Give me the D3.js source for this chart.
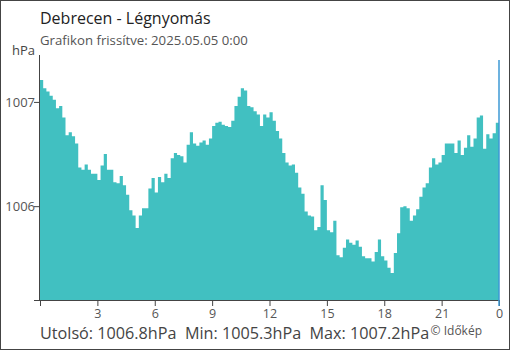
<!DOCTYPE html>
<html lang="hu">
<head>
<meta charset="UTF-8">
<title>Debrecen - Légnyomás</title>
<script src="https://cdn.jsdelivr.net/npm/d3@7"></script>
<style>
  body { margin: 0; background: #fff; }
  svg { display: block; font-family: "Open Sans", sans-serif; }
  .axis path, .axis line { stroke: #444; }
  .axis text { fill: #555; font-size: 12.5px; font-family: "Open Sans", sans-serif; }
</style>
</head>
<body>
<svg id="chart" width="510" height="350"></svg>

<script>
// 10 perces mérések 2025.05.04 0:00-tól, az utolsó pont 2025.05.05 0:00
var pressure = [
  1007.21, 1007.13, 1007.10, 1007.06, 1007.02, 1006.94, 1006.96, 1006.85, 1006.68, 1006.71,
  1006.67, 1006.60, 1006.37, 1006.35, 1006.40, 1006.35, 1006.31, 1006.31, 1006.25, 1006.39,
  1006.50, 1006.35, 1006.35, 1006.23, 1006.22, 1006.29, 1006.20, 1006.11, 1005.96, 1005.91,
  1005.79, 1005.91, 1005.98, 1005.98, 1006.17, 1006.27, 1006.13, 1006.28, 1006.23, 1006.31,
  1006.27, 1006.46, 1006.51, 1006.49, 1006.48, 1006.42, 1006.59, 1006.71, 1006.60, 1006.58,
  1006.61, 1006.63, 1006.59, 1006.65, 1006.77, 1006.80, 1006.81, 1006.78, 1006.77, 1006.76,
  1006.82, 1006.96, 1007.05, 1007.13, 1007.11, 1006.96, 1006.95, 1006.91, 1006.88, 1006.77,
  1006.88, 1006.85, 1006.90, 1006.82, 1006.72, 1006.65, 1006.51, 1006.42, 1006.39, 1006.40,
  1006.32, 1006.18, 1006.12, 1005.95, 1005.91, 1005.90, 1005.77, 1005.80, 1006.20, 1006.06,
  1005.77, 1005.75, 1005.86, 1005.53, 1005.51, 1005.60, 1005.68, 1005.65, 1005.63, 1005.67,
  1005.61, 1005.52, 1005.50, 1005.50, 1005.47, 1005.56, 1005.68, 1005.52, 1005.48, 1005.41,
  1005.36, 1005.55, 1005.74, 1005.99, 1006.00, 1005.98, 1005.86, 1005.91, 1005.97, 1006.09,
  1006.18, 1006.22, 1006.37, 1006.46, 1006.40, 1006.42, 1006.49, 1006.60, 1006.60, 1006.60,
  1006.51, 1006.63, 1006.49, 1006.56, 1006.68, 1006.57, 1006.65, 1006.85, 1006.87, 1006.55,
  1006.69, 1006.65, 1006.70, 1006.80, 1006.80
];
var stepMinutes = 10;
var hourTicks = [0, 3, 6, 9, 12, 15, 18, 21, 24];
var hourLabels = ["", "3", "6", "9", "12", "15", "18", "21", "0"];
var pressureTicks = [1006, 1007];

var title = "Debrecen - Légnyomás";
var subtitle = "Grafikon frissítve: 2025.05.05 0:00";
var unit = "hPa";
var statsText = ["Utolsó: 1006.8hPa", "Min: 1005.3hPa", "Max: 1007.2hPa"];
var credit = "© Időkép";

var svg = d3.select("#chart"),
    width = +svg.attr("width"),
    height = +svg.attr("height"),
    plotLeft = 40, plotRight = 499, plotTop = 55, plotBottom = 300;

var points = pressure.map(function(v, i) { return { h: i * stepMinutes / 60, v: v }; });

var x = d3.scaleLinear().domain([0, 24]).range([plotLeft, plotRight]);
var y = d3.scaleLinear().domain([1005.1, 1007.45]).range([plotBottom, plotTop]);

// keret
svg.append("rect")
    .attr("x", 0.5).attr("y", 0.5)
    .attr("width", width - 1).attr("height", height - 1)
    .attr("fill", "none").attr("stroke", "#444");

var area = d3.area()
    .curve(d3.curveStepAfter)
    .x(function(d) { return x(d.h); })
    .y0(plotBottom)
    .y1(function(d) { return y(d.v); });

svg.append("path")
    .datum(points)
    .attr("fill", "#41c0c1")
    .attr("d", area);

// x tengely
var xAxis = svg.append("g")
    .attr("class", "axis")
    .attr("transform", "translate(0," + plotBottom + ")")
    .call(d3.axisBottom(x).tickValues(hourTicks).tickSize(6).tickSizeOuter(0)
      .tickFormat(function(d, i) { return hourLabels[i]; }));
xAxis.select(".domain").attr("d", "M" + (plotLeft - 6) + ",0.5H" + (plotRight + 1));
xAxis.selectAll("text").attr("y", 18).attr("dy", 0);

// y tengely
var yAxis = svg.append("g")
    .attr("class", "axis")
    .attr("transform", "translate(" + plotLeft + ",0)")
    .call(d3.axisLeft(y).tickValues(pressureTicks).tickSize(6).tickSizeOuter(0)
      .tickFormat(d3.format("d")));
yAxis.select(".domain").attr("d", "M-0.5," + plotTop + "V" + plotBottom);
yAxis.selectAll("text").attr("x", -5).attr("dy", "0.35em").style("font-size", "13px");

// most vonal
svg.append("line")
    .attr("x1", x(24)).attr("x2", x(24))
    .attr("y1", 60).attr("y2", plotBottom + 6)
    .attr("stroke", "#3d98d4").attr("stroke-width", 1.5);

svg.append("text")
    .attr("x", 40).attr("y", 24)
    .attr("fill", "#222").style("font-size", "16px")
    .text(title);

svg.append("text")
    .attr("x", 40).attr("y", 45)
    .attr("fill", "#555").style("font-size", "13.2px")
    .text(subtitle);

svg.append("text")
    .attr("x", 35).attr("y", 55)
    .attr("text-anchor", "end")
    .attr("fill", "#444").style("font-size", "13px")
    .text(unit);

svg.append("text")
    .attr("x", 40).attr("y", 339)
    .attr("fill", "#444").style("font-size", "16.2px")
    .text(statsText.join("\u00a0\u00a0"));

svg.append("text")
    .attr("x", 482).attr("y", 335)
    .attr("text-anchor", "end")
    .attr("fill", "#555").style("font-size", "12px")
    .text(credit);
</script>
</body>
</html>
